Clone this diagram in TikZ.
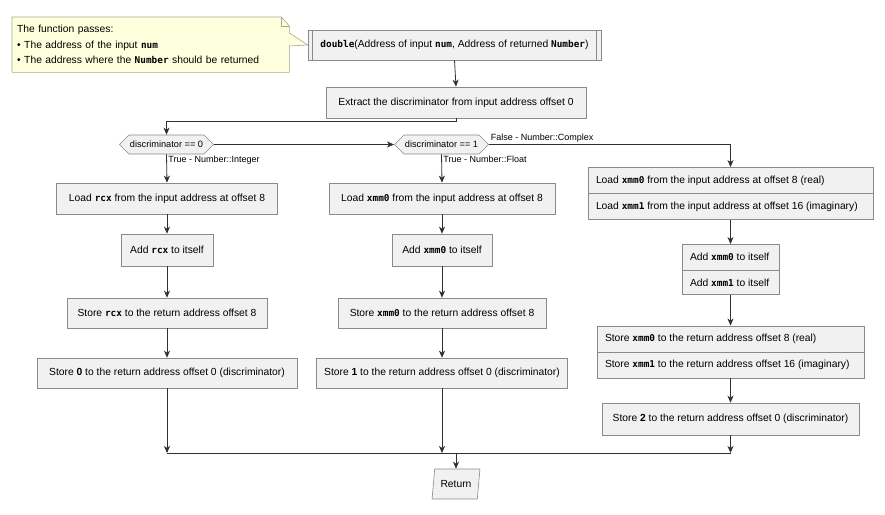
\documentclass[tikz,border=0pt]{standalone}
\usepackage{fontspec}
\setmainfont{Liberation Sans}
\newfontfamily\codefont{DejaVu Sans Mono}
\usetikzlibrary{arrows.meta,calc,positioning,shapes.geometric,shapes.symbols,shapes.multipart,backgrounds}
\definecolor{boxfill}{HTML}{F1F1F1}
\definecolor{boxline}{HTML}{8A8A8A}
\definecolor{notefill}{HTML}{FEFFDD}
\definecolor{noteline}{HTML}{A8A88A}
\definecolor{flowline}{HTML}{303030}
\newcommand{\code}[1]{{\codefont\bfseries\fontsize{9.4}{10}\selectfont #1}}

\begin{document}
\begin{tikzpicture}[x=1pt,y=-1pt,>={Stealth[length=7pt,width=6pt,inset=2pt]},font=\fontsize{10.3}{12}\selectfont]
		\tikzset{
			act/.style={draw=boxline,fill=boxfill,line width=0.6pt,minimum height=31pt,inner sep=0pt,align=center},
			twopart/.style={draw=boxline,fill=boxfill,line width=0.6pt,rectangle split,rectangle split parts=2,
				rectangle split part align=left,inner xsep=8pt,inner ysep=8pt,text height=7.5pt,text depth=2pt},
			test/.style={draw=boxline,fill=boxfill,line width=0.6pt,signal,signal to=west and east,
				minimum height=19pt,inner sep=1pt,font=\fontsize{9.2}{10}\selectfont},
			flow/.style={->,draw=flowline,line width=0.8pt},
			lbl/.style={font=\fontsize{9}{10}\selectfont,inner sep=1.5pt},
		}
		\useasboundingbox (0,0) rectangle (885,514);
		% note and entry
		\node[anchor=north west,text width=267pt,minimum height=55pt,inner sep=5pt,align=left,
			font=\fontsize{10.3}{15.5}\selectfont] (note) at (12,17)
		{The function passes:\\
		 \textbullet\ The address of the input \code{num}\\
		 \textbullet\ The address where the \code{Number} should be returned};
		\node[act,minimum width=293pt,minimum height=30pt] (dbl) at (454.5,45)
		{\code{double}(Address of input \code{num}, Address of returned \code{Number})};
		\draw[draw=boxline,line width=0.6pt] ([xshift=5pt]dbl.north west) -- ([xshift=5pt]dbl.south west);
		\draw[draw=boxline,line width=0.6pt] ([xshift=-5pt]dbl.north east) -- ([xshift=-5pt]dbl.south east);
		\begin{scope}[on background layer]
			\draw[draw=noteline,fill=notefill,line width=0.6pt] (note.north west) -- ($(note.north east)+(-8,0)$)
			-- ($(note.north east)+(0,9)$) -- ($(note.north east)+(0,16)$) -- (dbl.west)
			-- ($(note.north east)+(0,29)$) -- (note.south east) -- (note.south west) -- cycle;
			\draw[draw=noteline,line width=0.6pt] ($(note.north east)+(-8,0)$) -- ($(note.north east)+(-8,9)$)
			-- ($(note.north east)+(0,9)$);
		\end{scope}
		\node[act,minimum width=260pt] (ext) at (456,102.5) {Extract the discriminator from input address offset 0};
		% tests
		\node[test,minimum width=93pt] (dia0) at (166.5,144.5) {discriminator == 0};
		\node[test,minimum width=91pt] (dia1) at (441.5,144.5) {discriminator == 1};
		% integer
		\node[act,minimum width=221pt] (ld0) at (167,198.5) {Load \code{rcx} from the input address at offset 8};
		\node[act,minimum width=92pt,minimum height=32pt] (ad0) at (167,250) {Add \code{rcx} to itself};
		\node[act,minimum width=200pt,minimum height=30pt] (st0) at (167,313) {Store \code{rcx} to the return address offset 8};
		\node[act,minimum width=260pt,minimum height=30pt] (sz0) at (167,373) {Store \textbf{0} to the return address offset 0 (discriminator)};
		% float
		\node[act,minimum width=226pt] (ld1) at (442,198.5) {Load \code{xmm0} from the input address at offset 8};
		\node[act,minimum width=100pt,minimum height=32pt] (ad1) at (442,250) {Add \code{xmm0} to itself};
		\node[act,minimum width=208pt,minimum height=30pt] (st1) at (442,313) {Store \code{xmm0} to the return address offset 8};
		\node[act,minimum width=251pt,minimum height=30pt] (sz1) at (442,373) {Store \textbf{1} to the return address offset 0 (discriminator)};
		% complex
		\node[twopart,minimum width=285pt] (ld2) at (730.5,193.5)
		{Load \code{xmm0} from the input address at offset 8 (real)
		 \nodepart{two}Load \code{xmm1} from the input address at offset 16 (imaginary)};
		\node[twopart,minimum width=97pt] (ad2) at (730.5,269.5)
		{Add \code{xmm0} to itself\nodepart{two}Add \code{xmm1} to itself};
		\node[twopart,minimum width=267pt] (st2) at (730.5,352)
		{Store \code{xmm0} to the return address offset 8 (real)
		 \nodepart{two}Store \code{xmm1} to the return address offset 16 (imaginary)};
		\node[act,minimum width=257pt,minimum height=32pt] (sz2) at (730.5,419) {Store \textbf{2} to the return address offset 0 (discriminator)};
		% exit
		\coordinate (mrg) at (456,453);
		\node[draw=boxline,fill=boxfill,line width=0.6pt,trapezium,trapezium left angle=75,trapezium right angle=105,
			trapezium stretches=true,minimum width=48pt,minimum height=30pt,inner sep=0pt] (ret) at (456,484) {Return};
		% connectors
		\draw[flow] (dbl.south) -- (ext.north);
		\draw[flow] (ext.south) -- ++(0,3) -| (dia0.north);
		\draw[flow] (dia0.east) -- (dia1.west);
		\draw[flow] (dia0.south) -- (ld0.north)
		node[lbl,pos=0,anchor=north west]{True - Number::Integer};
		\draw[flow] (dia1.south) -- (ld1.north)
		node[lbl,pos=0,anchor=north west]{True - Number::Float};
		\draw[flow] (dia1.east) -| (ld2.north)
		node[lbl,pos=0,anchor=south west]{False - Number::Complex};
		\draw[flow] (ld0.south) -- (ad0.north);
		\draw[flow] (ad0.south) -- (st0.north);
		\draw[flow] (st0.south) -- (sz0.north);
		\draw[flow] (ld1.south) -- (ad1.north);
		\draw[flow] (ad1.south) -- (st1.north);
		\draw[flow] (st1.south) -- (sz1.north);
		\draw[flow] (ld2.south) -- (ad2.north);
		\draw[flow] (ad2.south) -- (st2.north);
		\draw[flow] (st2.south) -- (sz2.north);
		\draw[flow] (sz0.south) -- (sz0.south |- mrg);
		\draw[flow] (sz1.south) -- (sz1.south |- mrg);
		\draw[flow] (sz2.south) -- (sz2.south |- mrg);
		\draw[draw=flowline,line width=0.8pt] (sz0.south |- mrg) -- (sz2.south |- mrg);
		\draw[flow] (mrg) -- (mrg |- ret.north);
\end{tikzpicture}
\end{document}
